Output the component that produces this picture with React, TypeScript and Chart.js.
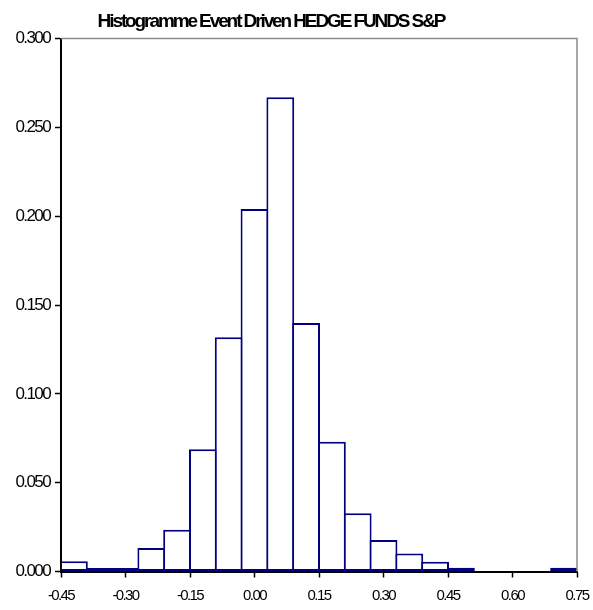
import React, { useEffect, useRef } from "react";
import { Chart, registerables } from "chart.js";

Chart.register(...registerables);

const TITLE = "Histogramme Event Driven HEDGE FUNDS S&P";
const binCenters = [-0.42, -0.36, -0.3, -0.24, -0.18, -0.12, -0.06, 0.0, 0.06, 0.12, 0.18, 0.24, 0.3, 0.36, 0.42, 0.48, 0.54, 0.6, 0.66, 0.72];
const frequencies = [0.0058, 0.002, 0.002, 0.0132, 0.0235, 0.0688, 0.1319, 0.204, 0.267, 0.1398, 0.0731, 0.0328, 0.0177, 0.0102, 0.0055, 0.0021, 0, 0, 0, 0.0021];
const xTicks = [-0.45, -0.3, -0.15, 0.0, 0.15, 0.3, 0.45, 0.6, 0.75];
const yTicks = [0, 0.05, 0.1, 0.15, 0.2, 0.25, 0.3];

const FONT = "'Liberation Sans Narrow', 'Liberation Sans', Arial, sans-serif";
const SPACING = "-1.6px";
const TITLE_SPACING = "-2.1px";

const frame = {
  id: "frame",
  beforeUpdate(chart: any) {
    chart.ctx.letterSpacing = SPACING;
  },
  afterLayout(chart: any) {
    const t = chart.titleBlock;
    if (t) {
      t.left = 0;
      t.right = 542;
      t.width = 542;
      if (!t.__wrapped) {
        const orig = t.draw;
        t.draw = function (...args: any[]) {
          const ctx = this.ctx;
          const prev = ctx.letterSpacing;
          ctx.letterSpacing = TITLE_SPACING;
          orig.apply(this, args);
          ctx.letterSpacing = prev;
        };
        t.__wrapped = true;
      }
    }
  },
  beforeDraw(chart: any) {
    chart.ctx.letterSpacing = SPACING;
  },
  afterDraw(chart: any) {
    const { ctx, chartArea } = chart;
    ctx.save();
    ctx.strokeStyle = "#8c8c8c";
    ctx.lineWidth = 1.5;
    ctx.beginPath();
    ctx.moveTo(chartArea.left, chartArea.top);
    ctx.lineTo(chartArea.right, chartArea.top);
    ctx.lineTo(chartArea.right, chartArea.bottom);
    ctx.stroke();
    ctx.restore();
  },
};

export default function App() {
  const ref = useRef<HTMLCanvasElement>(null);
  useEffect(() => {
    document.body.style.margin = "0";
    const chart = new Chart(ref.current!, {
      type: "bar",
      data: {
        datasets: [
          {
            data: binCenters.map((x, i) => ({ x, y: frequencies[i] })),
            backgroundColor: "#ffffff",
            borderColor: "#000080",
            borderWidth: 2,
            borderSkipped: false,
            barPercentage: 1.078,
            categoryPercentage: 1,
          },
        ],
      },
      options: {
        animation: false,
        responsive: false,
        maintainAspectRatio: false,
        layout: { padding: { left: 0, right: 16, top: 0, bottom: 0 } },
        plugins: {
          legend: { display: false },
          tooltip: { enabled: false },
          title: {
            display: true,
            text: TITLE,
            color: "#000",
            font: { family: FONT, size: 19, weight: "bold", lineHeight: 1.2 },
            padding: { top: 10, bottom: 5.7 },
          },
        },
        scales: {
          x: {
            type: "linear",
            min: -0.45,
            max: 0.75,
            offset: false,
            afterBuildTicks: (s: any) => {
              s.ticks = xTicks.map((v) => ({ value: v }));
            },
            afterFit: (s: any) => {
              s.height = 38.5;
              s.paddingLeft = 0;
              s.paddingRight = 0;
            },
            grid: {
              offset: false,
              drawOnChartArea: false,
              drawTicks: true,
              tickLength: 6,
              tickColor: "#000",
              tickWidth: 1.5,
            },
            border: { display: true, color: "#000", width: 2 },
            ticks: {
              color: "#000",
              padding: 9,
              maxRotation: 0,
              autoSkip: false,
              font: { family: FONT, size: 15 },
              callback: (v: any) => Number(v).toFixed(2),
            },
          },
          y: {
            type: "linear",
            min: 0,
            max: 0.3,
            afterBuildTicks: (s: any) => {
              s.ticks = yTicks.map((v) => ({ value: v }));
            },
            afterFit: (s: any) => {
              s.width = 61;
            },
            grid: {
              drawOnChartArea: false,
              drawTicks: true,
              tickLength: 6,
              tickColor: "#000",
              tickWidth: 1.5,
            },
            border: { display: true, color: "#000", width: 2 },
            ticks: {
              color: "#000",
              padding: 5,
              font: { family: FONT, size: 17 },
              callback: (v: any) => Number(v).toFixed(3),
            },
          },
        },
      },
      plugins: [frame],
    });
    return () => chart.destroy();
  }, []);
  return (
    <div style={{ width: 593, height: 610 }}>
      <canvas ref={ref} width={593} height={610} style={{ display: "block" }} />
    </div>
  );
}
